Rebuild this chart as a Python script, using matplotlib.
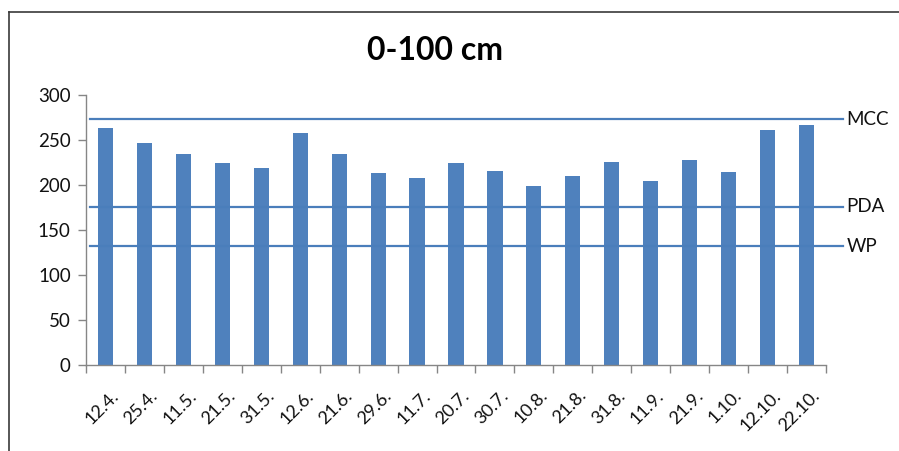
import matplotlib
matplotlib.use("Agg")
import matplotlib.pyplot as plt
import matplotlib.transforms as mtransforms
import numpy as np
from matplotlib.lines import Line2D

dates = ["12.4.", "25.4.", "11.5.", "21.5.", "31.5.", "12.6.", "21.6.", "29.6.",
         "11.7.", "20.7.", "30.7.", "10.8.", "21.8.", "31.8.", "11.9.", "21.9.",
         "1.10.", "12.10.", "22.10."]
storage = [263, 247, 234, 225, 219, 258, 234, 213, 208, 225, 216, 199, 210,
           226, 205, 228, 215, 261, 267]

level_names = ["MCC", "PDA", "WP"]
level_values = [273, 176, 132]

title = "0-100 cm"
yticks = [0, 50, 100, 150, 200, 250, 300]

plt.rcParams["font.family"] = ["Lato", "DejaVu Sans"]

bar_color = "#4F81BD"
axis_gray = "#868686"

fig = plt.figure(figsize=(8.99, 4.51), dpi=100)
ax = fig.add_axes([86 / 899, 1 - 365 / 451, (826 - 86) / 899, (365 - 95) / 451])

x = np.arange(len(dates))
ax.bar(x, storage, width=0.39, color=bar_color, zorder=2)

ax.set_xlim(-0.5, len(dates) - 0.5)
ax.set_ylim(0, 300)

# reference levels drawn across the plot and slightly past its right edge
for name, val in zip(level_names, level_values):
    ax.plot([-0.4, 18.93], [val, val], color="#4A7EBB", lw=1.6,
            clip_on=False, zorder=3)
    ax.text(19.03, val, name, ha="left", va="center", fontsize=13.5,
            color="#111111")

for s in ["top", "right"]:
    ax.spines[s].set_visible(False)
for s in ["left", "bottom"]:
    ax.spines[s].set_color(axis_gray)
    ax.spines[s].set_linewidth(1.0)

ax.set_yticks(yticks)
ax.set_yticklabels([str(v) for v in yticks], fontsize=13.5, color="#111111")
ax.tick_params(axis="y", length=6, width=1, color=axis_gray, pad=5)

# category boundary ticks, labels centred under each bar
ax.set_xticks(np.arange(-0.5, len(dates) + 0.5, 1.0))
ax.set_xticklabels([])
ax.tick_params(axis="x", which="major", length=6, width=1, color=axis_gray,
               direction="out")
ax.set_xticks(x, minor=True)
ax.set_xticklabels(dates, minor=True, rotation=45, ha="right", va="top",
                   rotation_mode="anchor", fontsize=13, color="#111111")
ax.tick_params(axis="x", which="minor", length=0, pad=16)
shift = mtransforms.ScaledTranslation(5 / 100, 0, fig.dpi_scale_trans)
for lab in ax.get_xticklabels(minor=True):
    lab.set_transform(lab.get_transform() + shift)

fig.text(435 / 899, 1 - 50 / 451, title, ha="center", va="center",
         fontsize=23, fontweight="bold", color="#000000")

# outer frame (top and left edges)
fig.add_artist(Line2D([9 / 899, 9 / 899], [0, 1 - 12 / 451],
                      transform=fig.transFigure, color="#3a3a3a", lw=1.2))
fig.add_artist(Line2D([9 / 899, 1], [1 - 12 / 451, 1 - 12 / 451],
                      transform=fig.transFigure, color="#3a3a3a", lw=1.2))

fig.savefig("out.png", dpi=100)
